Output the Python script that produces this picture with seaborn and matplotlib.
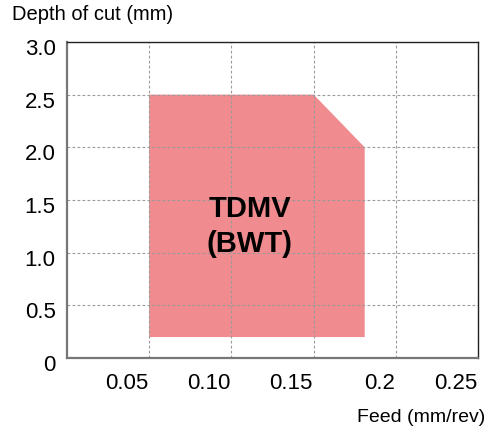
import matplotlib
matplotlib.use("Agg")
import matplotlib.pyplot as plt
import matplotlib.transforms as mtransforms
import seaborn as sns

# ── Data ──────────────────────────────────────────────────────────────────────
# Outline of the recommended cutting range (feed, depth of cut)
region_feed  = [0.05, 0.15, 0.181, 0.181, 0.05]
region_depth = [2.5, 2.5, 2.0, 0.2, 0.2]
region_label = "TDMV\n(BWT)"
label_pos    = (0.111, 1.25)

x_ticks      = [0.05, 0.10, 0.15, 0.20, 0.25]
x_ticklabels = ["0.05", "0.10", "0.15", "0.2", "0.25"]
y_ticks      = [0, 0.5, 1.0, 1.5, 2.0, 2.5, 3.0]
y_ticklabels = ["0", "0.5", "1.0", "1.5", "2.0", "2.5", "3.0"]

# ── Style ─────────────────────────────────────────────────────────────────────
sns.set_theme(style="white")
plt.rcParams["font.family"] = ["Liberation Sans", "DejaVu Sans"]
plt.rcParams["text.color"] = "black"

fig = plt.figure(figsize=(4.88, 4.32), dpi=100)
ax = fig.add_axes([0.137, 0.171, 0.843, 0.732])

ax.fill(region_feed, region_depth, color="#f08b8f", lw=0, zorder=1)

ax.set_xlim(0, 0.25)
ax.set_ylim(0, 3.0)
ax.set_xticks(x_ticks)
ax.set_xticklabels(x_ticklabels, fontsize=16, ha="right")
ax.set_yticks(y_ticks)
ax.set_yticklabels(y_ticklabels, fontsize=16)
ax.tick_params(axis="x", length=0, pad=11, colors="black")
ax.tick_params(axis="y", length=0, pad=8, colors="black")

# nudge y tick labels down a little, as in the original
offset = mtransforms.ScaledTranslation(0, -5 / 100, fig.dpi_scale_trans)
for lbl in ax.get_yticklabels():
    lbl.set_transform(lbl.get_transform() + offset)
offx = mtransforms.ScaledTranslation(-1 / 100, 0, fig.dpi_scale_trans)
for lbl in ax.get_xticklabels():
    lbl.set_transform(lbl.get_transform() + offx)

ax.grid(True, color="#9a9a9a", linestyle=(0, (2.5, 2)), linewidth=0.8)
ax.set_axisbelow(False)

for side in ["left", "bottom"]:
    ax.spines[side].set_color("#777777")
    ax.spines[side].set_linewidth(1.6)
for side in ["top", "right"]:
    ax.spines[side].set_color("#222222")
    ax.spines[side].set_linewidth(1.0)
for sp in ax.spines.values():
    sp.set_zorder(5)

ax.text(*label_pos, region_label, ha="center", va="center", fontsize=21,
        fontweight="bold", linespacing=1.35, color="black", zorder=3)

fig.text(12 / 488, 1 - 15 / 432, "Depth of cut (mm)", fontsize=14.5,
         ha="left", va="center", color="black")
fig.text(485 / 488, 1 - 417 / 432, "Feed (mm/rev)", fontsize=14,
         ha="right", va="center", color="black")

fig.savefig("out.png", dpi=100)
plt.close()
